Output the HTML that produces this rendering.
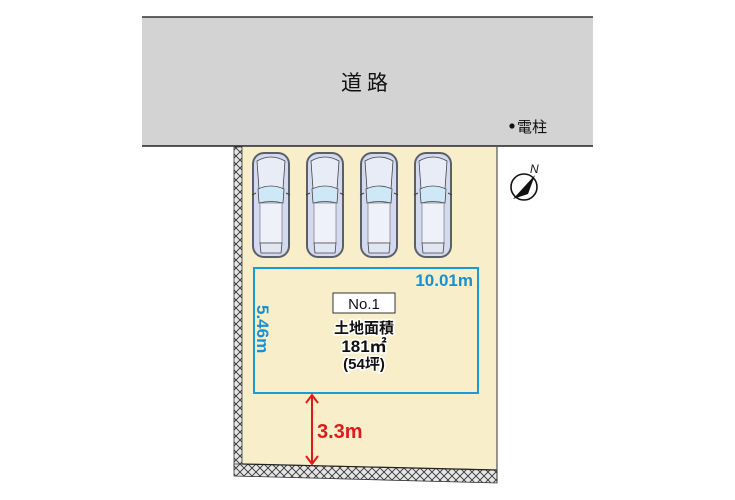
<!DOCTYPE html>
<html><head><meta charset="utf-8"><style>
html,body{margin:0;padding:0;background:#fff;}
svg{display:block;}
text{font-family:"Liberation Sans","Noto Sans CJK JP",sans-serif;}
</style></head><body>
<svg width="735" height="500" viewBox="0 0 735 500" xmlns="http://www.w3.org/2000/svg">
<defs>
<pattern id="hx" width="8" height="8" patternUnits="userSpaceOnUse">
<rect width="8" height="8" fill="#e6e6e6"/>
<path d="M0 0L8 8M8 0L0 8" stroke="#333" stroke-width="0.9"/>
</pattern>
<g id="car">
<rect x="1" y="1" width="38" height="106" rx="12" fill="#5a5f6a"/>
<rect x="3" y="3" width="34" height="102" rx="10" fill="#d3daef"/>
<path d="M6 10 Q20 2 34 10 L32 38 L8 38 Z" fill="#e8ecf7" stroke="#444" stroke-width="0.8"/>
<path d="M7 38 Q20 32 33 38 L32 52 Q20 49 8 52 Z" fill="#cfe8f7" stroke="#444" stroke-width="0.8"/>
<rect x="9" y="52" width="22" height="40" fill="#eef1fa" stroke="#666" stroke-width="0.6"/>
<path d="M9 92 L31 92 L30 102 L10 102 Z" fill="#e1e6f3" stroke="#444" stroke-width="0.8"/>
<path d="M1 44 L5 42 M39 44 L35 42" stroke="#444" stroke-width="1.2"/>
</g>
</defs>
<rect width="735" height="500" fill="#fff"/>
<rect x="142" y="17" width="451" height="129" fill="#d3d3d3"/>
<line x1="142" y1="17" x2="593" y2="17" stroke="#333" stroke-width="1.5"/>
<line x1="142" y1="146" x2="593" y2="146" stroke="#222" stroke-width="1.5"/>
<text x="367" y="90" font-size="21" text-anchor="middle" fill="#111" letter-spacing="5">道路</text>
<circle cx="512" cy="126" r="2.6" fill="#111"/>
<text x="517" y="132" font-size="15" fill="#111">電柱</text>
<polygon points="234,147 497,147 497,483 234,476" fill="#f8efca"/>
<rect x="234" y="147" width="8" height="320" fill="url(#hx)" stroke="#333" stroke-width="0.8"/>
<polygon points="234,464 242,464 497,470 497,483 234,476" fill="url(#hx)" stroke="#333" stroke-width="0.8"/>
<line x1="242" y1="464" x2="497" y2="470" stroke="#222" stroke-width="1.2"/>
<line x1="497" y1="147" x2="497" y2="483" stroke="#333" stroke-width="1"/>
<use href="#car" x="251" y="151"/>
<use href="#car" x="305" y="151"/>
<use href="#car" x="359" y="151"/>
<use href="#car" x="413" y="151"/>
<circle cx="524" cy="187" r="13" fill="#fff" stroke="#111" stroke-width="1.6"/>
<polygon points="535,175 528,194 513,199" fill="#111"/>
<text x="530" y="173" font-size="12" font-style="italic" fill="#111">N</text>
<rect x="254" y="268" width="224" height="125" fill="none" stroke="#1a9ad6" stroke-width="2"/>
<text x="473" y="286" font-size="17" font-weight="bold" fill="#1a8fd0" text-anchor="end">10.01m</text>
<text transform="translate(257,305) rotate(90)" font-size="17" font-weight="bold" fill="#1a8fd0">5.46m</text>
<rect x="333" y="293" width="62" height="20" fill="#fff" stroke="#333" stroke-width="1"/>
<text x="364" y="309" font-size="15" text-anchor="middle" fill="#111">No.1</text>
<g font-weight="bold" fill="#111" stroke="#fff" stroke-width="3" paint-order="stroke" text-anchor="middle">
<text x="364" y="333" font-size="15">土地面積</text>
<text x="364" y="352" font-size="17">181㎡</text>
<text x="364" y="369" font-size="15">(54坪)</text>
</g>
<line x1="312" y1="397" x2="312" y2="462" stroke="#e01a1a" stroke-width="2"/>
<path d="M306 403 L312 395 L318 403 M306 456 L312 464 L318 456" fill="none" stroke="#e01a1a" stroke-width="2"/>
<text x="317" y="438" font-size="20" font-weight="bold" fill="#e01a1a">3.3m</text>
</svg>
</body></html>
